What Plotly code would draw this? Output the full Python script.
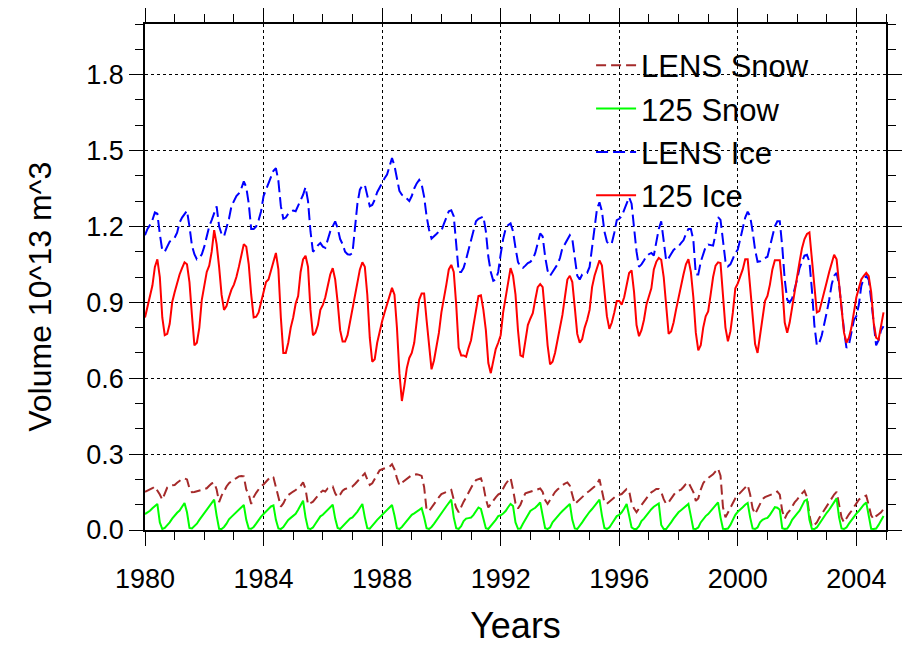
import plotly.graph_objects as go

start_year = 1980
n_months = 300

ice_125 = [
    0.84, 0.884, 0.92, 0.966, 1.04, 1.07, 1.00, 0.84, 0.77, 0.775, 0.815, 0.90,
    0.94, 0.98, 1.01, 1.035, 1.058, 1.05, 0.98, 0.85, 0.73, 0.74, 0.80, 0.91,
    0.97, 1.02, 1.045, 1.10, 1.185, 1.13, 1.04, 0.93, 0.87, 0.885, 0.92, 0.95,
    0.97, 1.00, 1.04, 1.09, 1.13, 1.12, 1.05, 0.93, 0.84, 0.843, 0.86, 0.90,
    0.94, 0.98, 0.99, 1.03, 1.06, 1.095, 1.03, 0.84, 0.70, 0.70, 0.74, 0.80,
    0.84, 0.895, 0.925, 1.02, 1.07, 1.084, 1.04, 0.87, 0.77, 0.78, 0.81, 0.87,
    0.89, 0.92, 0.97, 1.01, 1.035, 0.99, 0.90, 0.79, 0.745, 0.745, 0.77, 0.82,
    0.87, 0.92, 0.98, 1.03, 1.058, 1.04, 0.93, 0.76, 0.665, 0.675, 0.74, 0.79,
    0.825, 0.86, 0.89, 0.925, 0.957, 0.93, 0.80, 0.62, 0.51, 0.57, 0.64, 0.68,
    0.70, 0.74, 0.82, 0.91, 0.935, 0.935, 0.83, 0.72, 0.635, 0.67, 0.72, 0.78,
    0.86, 0.91, 0.97, 1.03, 1.048, 1.02, 0.89, 0.72, 0.69, 0.69, 0.685, 0.72,
    0.75, 0.81, 0.87, 0.925, 0.928, 0.87, 0.79, 0.66, 0.62, 0.665, 0.715, 0.74,
    0.77, 0.86, 0.92, 0.98, 1.035, 1.005, 0.93, 0.79, 0.69, 0.685, 0.75, 0.81,
    0.835, 0.857, 0.91, 0.96, 0.972, 0.96, 0.85, 0.73, 0.655, 0.665, 0.70, 0.75,
    0.79, 0.85, 0.92, 0.99, 1.005, 0.98, 0.88, 0.775, 0.74, 0.755, 0.80, 0.83,
    0.87, 0.96, 1.005, 1.04, 1.066, 1.045, 0.95, 0.845, 0.795, 0.82, 0.86, 0.905,
    0.905, 0.891, 0.92, 0.97, 1.016, 1.026, 0.94, 0.81, 0.766, 0.79, 0.83, 0.89,
    0.925, 0.955, 1.03, 1.06, 1.075, 1.068, 1.00, 0.88, 0.775, 0.785, 0.82, 0.871,
    0.92, 0.97, 1.01, 1.05, 1.07, 1.02, 0.92, 0.78, 0.71, 0.73, 0.80, 0.845,
    0.864, 0.93, 1.00, 1.045, 1.058, 1.055, 0.94, 0.80, 0.746, 0.785, 0.86, 0.955,
    0.975, 1.00, 1.03, 1.07, 1.07, 0.96, 0.83, 0.735, 0.70, 0.775, 0.83, 0.905,
    0.925, 0.97, 1.03, 1.066, 1.066, 1.066, 0.965, 0.82, 0.78, 0.82, 0.88, 0.95,
    1.00, 1.06, 1.114, 1.15, 1.17, 1.176, 1.06, 0.95, 0.86, 0.865, 0.90, 0.943,
    0.98, 1.02, 1.06, 1.088, 1.07, 0.97, 0.86, 0.78, 0.74, 0.76, 0.80, 0.86,
    0.92, 0.955, 0.99, 1.005, 1.016, 1.003, 0.94, 0.82, 0.76, 0.753, 0.80, 0.86,
]

ice_lens = [
    1.165, 1.19, 1.205, 1.225, 1.255, 1.25, 1.17, 1.105, 1.10, 1.12, 1.14, 1.147,
    1.155, 1.175, 1.215, 1.235, 1.25, 1.262, 1.20, 1.125, 1.09, 1.07, 1.075, 1.09,
    1.12, 1.16, 1.20, 1.225, 1.255, 1.279, 1.20, 1.17, 1.16, 1.193, 1.23, 1.28,
    1.30, 1.32, 1.33, 1.35, 1.378, 1.355, 1.29, 1.19, 1.19, 1.20, 1.225, 1.26,
    1.32, 1.345, 1.37, 1.39, 1.42, 1.43, 1.38, 1.28, 1.23, 1.235, 1.25, 1.258,
    1.263, 1.26, 1.28, 1.30, 1.325, 1.355, 1.30, 1.18, 1.10, 1.11, 1.125, 1.134,
    1.12, 1.115, 1.15, 1.18, 1.20, 1.22, 1.193, 1.15, 1.13, 1.10, 1.09, 1.088,
    1.095, 1.18, 1.29, 1.345, 1.362, 1.364, 1.325, 1.28, 1.285, 1.305, 1.335, 1.355,
    1.37, 1.39, 1.405, 1.44, 1.47, 1.44, 1.39, 1.34, 1.325, 1.32, 1.31, 1.30,
    1.32, 1.35, 1.37, 1.384, 1.366, 1.318, 1.24, 1.187, 1.152, 1.16, 1.17, 1.18,
    1.183, 1.21, 1.235, 1.26, 1.264, 1.24, 1.13, 1.02, 1.02, 1.036, 1.07, 1.11,
    1.15, 1.185, 1.22, 1.23, 1.235, 1.239, 1.18, 1.08, 1.02, 0.985, 0.99, 1.02,
    1.09, 1.15, 1.19, 1.205, 1.212, 1.18, 1.115, 1.06, 1.04, 1.036, 1.045, 1.055,
    1.06, 1.07, 1.095, 1.135, 1.172, 1.16, 1.08, 1.025, 1.005, 1.02, 1.035, 1.05,
    1.075, 1.115, 1.13, 1.15, 1.165, 1.15, 1.07, 1.005, 0.99, 1.01, 1.016, 1.016,
    1.04, 1.11, 1.20, 1.27, 1.295, 1.26, 1.18, 1.14, 1.128, 1.134, 1.175, 1.225,
    1.23, 1.24, 1.265, 1.29, 1.315, 1.29, 1.20, 1.10, 1.04, 1.05, 1.065, 1.082,
    1.09, 1.095, 1.085, 1.14, 1.19, 1.22, 1.15, 1.065, 1.075, 1.09, 1.107, 1.115,
    1.121, 1.134, 1.145, 1.17, 1.19, 1.19, 1.147, 1.01, 1.01, 1.06, 1.095, 1.12,
    1.128, 1.126, 1.124, 1.17, 1.237, 1.226, 1.147, 1.062, 1.042, 1.05, 1.072, 1.095,
    1.108, 1.15, 1.19, 1.235, 1.258, 1.24, 1.18, 1.108, 1.06, 1.062, 1.07, 1.075,
    1.08, 1.12, 1.16, 1.20, 1.22, 1.22, 1.12, 0.99, 0.91, 0.90, 0.915, 0.95,
    0.99, 1.035, 1.062, 1.085, 1.088, 1.06, 0.95, 0.81, 0.73, 0.74, 0.77, 0.81,
    0.86, 0.91, 0.97, 1.005, 1.016, 0.97, 0.87, 0.79, 0.72, 0.733, 0.78, 0.83,
    0.845, 0.89, 0.965, 0.995, 1.003, 0.99, 0.91, 0.81, 0.73, 0.75, 0.79, 0.805,
]

snow_125 = [
    0.063, 0.069, 0.076, 0.086, 0.096, 0.103, 0.03, 0.004, 0.008, 0.018, 0.03, 0.045,
    0.058, 0.068, 0.077, 0.092, 0.107, 0.07, 0.008, 0.006, 0.015, 0.025, 0.04, 0.054,
    0.068, 0.083, 0.095, 0.108, 0.12, 0.057, 0.005, 0.004, 0.012, 0.025, 0.042, 0.052,
    0.062, 0.072, 0.082, 0.091, 0.099, 0.04, 0.006, 0.005, 0.012, 0.025, 0.04, 0.053,
    0.063, 0.072, 0.082, 0.093, 0.097, 0.04, 0.006, 0.004, 0.012, 0.025, 0.04, 0.048,
    0.055, 0.064, 0.08, 0.1, 0.116, 0.05, 0.006, 0.004, 0.01, 0.025, 0.04, 0.054,
    0.06, 0.07, 0.08, 0.092, 0.1, 0.045, 0.008, 0.004, 0.015, 0.025, 0.035, 0.045,
    0.05, 0.06, 0.073, 0.088, 0.103, 0.05, 0.007, 0.005, 0.015, 0.028, 0.04, 0.05,
    0.056, 0.068, 0.078, 0.09, 0.099, 0.057, 0.007, 0.004, 0.012, 0.024, 0.037, 0.05,
    0.06, 0.066, 0.073, 0.08, 0.086, 0.05, 0.007, 0.004, 0.012, 0.024, 0.037, 0.05,
    0.066, 0.08, 0.094, 0.107, 0.12, 0.05, 0.007, 0.004, 0.015, 0.035, 0.045, 0.047,
    0.049, 0.06, 0.075, 0.089, 0.083, 0.043, 0.007, 0.004, 0.015, 0.025, 0.04, 0.055,
    0.058, 0.065, 0.075, 0.09, 0.103, 0.095, 0.03, 0.005, 0.006, 0.025, 0.04, 0.058,
    0.075, 0.082, 0.088, 0.098, 0.109, 0.057, 0.007, 0.004, 0.01, 0.03, 0.043, 0.055,
    0.065, 0.075, 0.085, 0.095, 0.103, 0.04, 0.006, 0.004, 0.015, 0.03, 0.045, 0.06,
    0.072, 0.083, 0.095, 0.108, 0.12, 0.057, 0.008, 0.004, 0.01, 0.025, 0.043, 0.055,
    0.06, 0.07, 0.085, 0.103, 0.057, 0.01, 0.004, 0.004, 0.015, 0.035, 0.045, 0.058,
    0.072, 0.082, 0.092, 0.1, 0.105, 0.02, 0.004, 0.004, 0.015, 0.03, 0.045, 0.06,
    0.07, 0.078, 0.086, 0.095, 0.103, 0.055, 0.005, 0.004, 0.01, 0.03, 0.045, 0.055,
    0.063, 0.075, 0.087, 0.099, 0.109, 0.05, 0.005, 0.004, 0.006, 0.02, 0.043, 0.06,
    0.072, 0.08, 0.09, 0.1, 0.107, 0.05, 0.006, 0.004, 0.01, 0.03, 0.04, 0.045,
    0.048, 0.06, 0.075, 0.09, 0.088, 0.08, 0.007, 0.004, 0.006, 0.02, 0.04, 0.055,
    0.065, 0.076, 0.095, 0.115, 0.12, 0.04, 0.005, 0.004, 0.01, 0.025, 0.043, 0.055,
    0.068, 0.08, 0.095, 0.11, 0.125, 0.05, 0.006, 0.004, 0.01, 0.025, 0.04, 0.055,
    0.065, 0.075, 0.09, 0.1, 0.109, 0.05, 0.005, 0.004, 0.006, 0.02, 0.037, 0.055,
]

snow_lens = [
    0.151, 0.155, 0.159, 0.165, 0.172, 0.158, 0.14, 0.12, 0.145, 0.168, 0.175, 0.177,
    0.178, 0.187, 0.196, 0.201, 0.204, 0.2, 0.165, 0.149, 0.15, 0.153, 0.158, 0.161,
    0.164, 0.165, 0.175, 0.184, 0.187, 0.16, 0.11, 0.136, 0.152, 0.172, 0.185, 0.194,
    0.2, 0.205, 0.212, 0.213, 0.212, 0.16, 0.14, 0.103, 0.13, 0.147, 0.162, 0.174,
    0.18, 0.19, 0.2, 0.212, 0.208, 0.165, 0.125, 0.092, 0.105, 0.125, 0.138, 0.147,
    0.152, 0.158, 0.165, 0.175, 0.188, 0.162, 0.1, 0.105, 0.112, 0.124, 0.137, 0.148,
    0.156, 0.152, 0.165, 0.168, 0.172, 0.145, 0.13, 0.14, 0.155, 0.162, 0.165, 0.168,
    0.172, 0.182, 0.192, 0.205, 0.215, 0.224, 0.2, 0.178, 0.185, 0.202, 0.218, 0.236,
    0.24, 0.243, 0.246, 0.25, 0.26, 0.24, 0.205, 0.177, 0.187, 0.195, 0.202, 0.21,
    0.217, 0.219, 0.22, 0.218, 0.214, 0.17, 0.08, 0.075, 0.09, 0.1, 0.116, 0.13,
    0.142, 0.147, 0.151, 0.155, 0.159, 0.12, 0.088, 0.07, 0.095, 0.112, 0.129, 0.15,
    0.165, 0.185, 0.197, 0.2, 0.204, 0.175, 0.122, 0.089, 0.105, 0.116, 0.129, 0.14,
    0.146, 0.165, 0.182, 0.195, 0.206, 0.16, 0.105, 0.085, 0.1, 0.125, 0.145, 0.148,
    0.151, 0.153, 0.155, 0.16, 0.164, 0.15, 0.118, 0.103, 0.12, 0.135, 0.15, 0.16,
    0.17, 0.177, 0.183, 0.188, 0.175, 0.14, 0.103, 0.112, 0.122, 0.132, 0.142, 0.148,
    0.155, 0.162, 0.172, 0.182, 0.201, 0.155, 0.109, 0.104, 0.112, 0.122, 0.13, 0.136,
    0.139, 0.142, 0.152, 0.162, 0.155, 0.105, 0.085, 0.07, 0.085, 0.1, 0.115, 0.125,
    0.138, 0.149, 0.155, 0.162, 0.162, 0.15, 0.122, 0.103, 0.11, 0.122, 0.138, 0.151,
    0.155, 0.159, 0.17, 0.182, 0.188, 0.17, 0.15, 0.115, 0.125, 0.16, 0.185, 0.198,
    0.205, 0.213, 0.22, 0.232, 0.243, 0.215, 0.09, 0.05, 0.07, 0.09, 0.11, 0.125,
    0.137, 0.147, 0.157, 0.17, 0.178, 0.14, 0.085, 0.063, 0.085, 0.105, 0.122, 0.13,
    0.135, 0.138, 0.142, 0.146, 0.152, 0.14, 0.075, 0.045, 0.065, 0.076, 0.095, 0.109,
    0.12, 0.135, 0.145, 0.155, 0.13, 0.06, 0.012, 0.02, 0.03, 0.048, 0.063, 0.08,
    0.096, 0.11, 0.128, 0.14, 0.151, 0.1, 0.05, 0.03, 0.048, 0.062, 0.075, 0.09,
    0.11, 0.12, 0.128, 0.132, 0.136, 0.098, 0.058, 0.043, 0.055, 0.062, 0.07, 0.083,
]

series_names = ["LENS Snow", "125 Snow", "LENS Ice", "125 Ice"]
series_colors = ["#A52A2A", "#00FF00", "#0000FF", "#FF0000"]
series_dash = ["10px,5px", "solid", "12px,5px", "solid"]
series_data = [snow_lens, snow_125, ice_lens, ice_125]

x_tick_vals = [1980, 1984, 1988, 1992, 1996, 2000, 2004]
y_tick_vals = [0.0, 0.3, 0.6, 0.9, 1.2, 1.5, 1.8]

time = [start_year + i / 12.0 for i in range(n_months)]

fig = go.Figure()
for name, color, dash, vals in zip(series_names, series_colors, series_dash, series_data):
    fig.add_trace(go.Scatter(
        x=time, y=vals, mode="lines", name=name,
        line=dict(color=color, width=2, dash=dash),
    ))

font_family = "Liberation Sans, Arial, Helvetica, sans-serif"

axis_common = dict(
    showline=True, linecolor="black", linewidth=1.5, mirror="ticks",
    ticks="outside", ticklen=14, tickwidth=1, tickcolor="black",
    showgrid=True, gridcolor="black", gridwidth=1, griddash="3px,3px",
    zeroline=False, tickfont=dict(size=27, color="black", family=font_family),
)

fig.update_layout(
    width=909, height=646, autosize=False,
    margin=dict(l=145, r=7, t=24, b=115),
    plot_bgcolor="white", paper_bgcolor="white",
    font=dict(family=font_family, color="black"),
    showlegend=True,
    legend=dict(
        x=0.602, y=0.971, xanchor="left", yanchor="top",
        bgcolor="rgba(0,0,0,0)", borderwidth=0,
        font=dict(size=31, color="black", family=font_family),
        itemwidth=40, tracegroupgap=0,
    ),
    xaxis=dict(
        range=[1980, 2005], tickmode="array", tickvals=x_tick_vals,
        ticktext=[str(v) for v in x_tick_vals], ticklabelstandoff=10,
        minor=dict(dtick=1, tick0=1980, ticklen=8, tickwidth=1, tickcolor="black",
                   ticks="outside", showgrid=False),
        title=dict(text="Years", font=dict(size=36, family=font_family), standoff=20),
        **axis_common,
    ),
    yaxis=dict(
        range=[0, 2.0], tickmode="array", tickvals=y_tick_vals,
        ticktext=["%.1f" % v for v in y_tick_vals],
        minor=dict(dtick=0.1, tick0=0, ticklen=8, tickwidth=1, tickcolor="black",
                   ticks="outside", showgrid=False),
        **axis_common,
    ),
    annotations=[dict(
        text="Volume 10^13 m^3", textangle=-90, showarrow=False,
        xref="paper", yref="paper", x=-0.1413, y=0.4615,
        xanchor="center", yanchor="middle",
        font=dict(size=32, color="black", family=font_family),
    )],
)

fig.write_html("out.html")
